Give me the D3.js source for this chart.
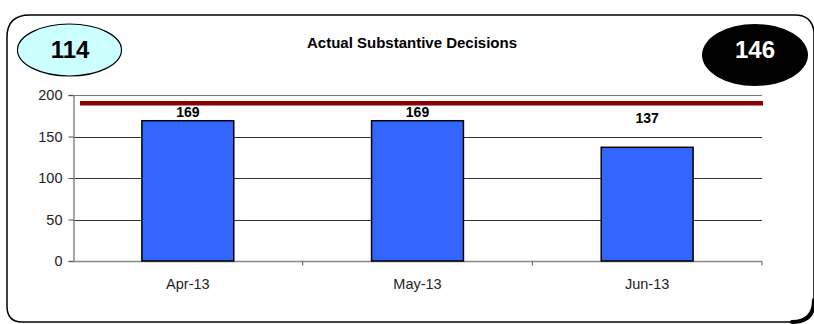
<!DOCTYPE html>
<html>
<head>
<meta charset="utf-8">
<script src="https://cdn.jsdelivr.net/npm/d3@7"></script>
<style>
  html, body { margin: 0; padding: 0; background: #fff; }
  svg { display: block; font-family: "Liberation Sans", Arial, sans-serif; }
</style>
</head>
<body>
<svg id="chart" width="814" height="324"></svg>
<script>
// data
const months = ['Apr-13', 'May-13', 'Jun-13'];
const decisions = [169, 169, 137];
const target = 190;
const yTicks = [0, 50, 100, 150, 200];
const leftBadge = '114';
const rightBadge = '146';
const title = 'Actual Substantive Decisions';

const svg = d3.select('#chart');
const margin = { top: 95, right: 52, bottom: 63, left: 73 };
const W = 814, H = 324;

/* frame with rounded corners, heavy bottom-right corner */
svg.append('path')
  .attr('d', 'M 7 37 Q 7 15 30 15 L 795 15 Q 812 15 814 32 L 814 304 Q 814 322 796 322 L 22 322 Q 7 322 7 306 Z')
  .attr('fill', '#fff').attr('stroke', '#000').attr('stroke-width', 1.5);
svg.append('path')
  .attr('d', 'M 792 322 Q 814 322 814 300')
  .attr('fill', 'none').attr('stroke', '#000').attr('stroke-width', 4)
  .attr('stroke-linecap', 'round');

/* badges */
svg.append('ellipse')
  .attr('cx', 69.5).attr('cy', 50).attr('rx', 52).attr('ry', 26)
  .attr('fill', '#ccffff').attr('stroke', '#000').attr('stroke-width', 1.2);
svg.append('text')
  .attr('x', 70).attr('y', 58).attr('text-anchor', 'middle')
  .style('font-weight', 700).style('font-size', '24px')
  .text(leftBadge);
svg.append('ellipse')
  .attr('cx', 755).attr('cy', 55).attr('rx', 53).attr('ry', 31)
  .attr('fill', '#000');
svg.append('text')
  .attr('x', 755).attr('y', 58).attr('text-anchor', 'middle')
  .attr('fill', '#fff')
  .style('font-weight', 700).style('font-size', '24px')
  .text(rightBadge);

svg.append('text')
  .attr('x', 412).attr('y', 48).attr('text-anchor', 'middle')
  .style('font-weight', 700).style('font-size', '15px')
  .text(title);

/* scales */
const x = d3.scaleBand()
  .domain(months)
  .range([margin.left, W - margin.right]);
const y = d3.scaleLinear()
  .domain([0, 200])
  .range([H - margin.bottom, margin.top]);

const plotL = margin.left, plotR = W - margin.right;

// gridlines
svg.append('g')
  .selectAll('line').data(yTicks.filter(d => d > 0)).join('line')
  .attr('x1', plotL).attr('x2', plotR)
  .attr('y1', d => Math.round(y(d)) + 0.5).attr('y2', d => Math.round(y(d)) + 0.5)
  .attr('stroke', d => d === 200 ? '#777' : '#333').attr('stroke-width', 1);

// y axis
const yAxis = svg.append('g')
  .attr('transform', `translate(${plotL + 0.5},0)`)
  .call(d3.axisLeft(y).tickValues(yTicks).tickSize(5).tickPadding(6));
yAxis.select('.domain').attr('stroke', '#888').attr('stroke-width', 1.5);
yAxis.selectAll('.tick line').attr('stroke', '#555');
yAxis.selectAll('.tick text')
  .style('font-family', '"Liberation Sans", Arial, sans-serif')
  .style('font-size', '14.5px').attr('fill', '#222');

// x axis: ticks sit on category boundaries
const xAxisG = svg.append('g')
  .attr('transform', `translate(0,${Math.round(y(0)) + 0.5})`);
xAxisG.append('line')
  .attr('x1', plotL).attr('x2', plotR)
  .attr('stroke', '#888').attr('stroke-width', 1.5);
xAxisG.selectAll('line.sep').data(months).join('line')
  .attr('class', 'sep')
  .attr('x1', d => x(d) + x.bandwidth()).attr('x2', d => x(d) + x.bandwidth())
  .attr('y1', 0).attr('y2', 4)
  .attr('stroke', '#555');
xAxisG.selectAll('text').data(months).join('text')
  .attr('x', d => x(d) + x.bandwidth() / 2)
  .attr('y', 27)
  .attr('text-anchor', 'middle')
  .attr('fill', '#222')
  .style('font-size', '14.5px')
  .text(d => d);

// bars
const barW = x.bandwidth() * 0.4;
svg.append('g')
  .selectAll('rect').data(decisions).join('rect')
  .attr('x', (d, i) => x(months[i]) + (x.bandwidth() - barW) / 2)
  .attr('y', d => y(d))
  .attr('width', barW)
  .attr('height', d => y(0) - y(d))
  .attr('fill', '#3366ff')
  .attr('stroke', '#000').attr('stroke-width', 1.5);

// target line
svg.append('line')
  .attr('x1', plotL + 7).attr('x2', plotR + 1)
  .attr('y1', y(target)).attr('y2', y(target))
  .attr('stroke', '#8b0000').attr('stroke-width', 4.5);

// value labels (kept below the target line)
svg.append('g')
  .selectAll('text').data(decisions).join('text')
  .attr('x', (d, i) => x(months[i]) + x.bandwidth() / 2)
  .attr('y', d => Math.max(y(d) - 24, y(target) + 14))
  .attr('text-anchor', 'middle')
  .style('font-weight', 700).style('font-size', '14px')
  .text(d => d);
</script>
</body>
</html>
